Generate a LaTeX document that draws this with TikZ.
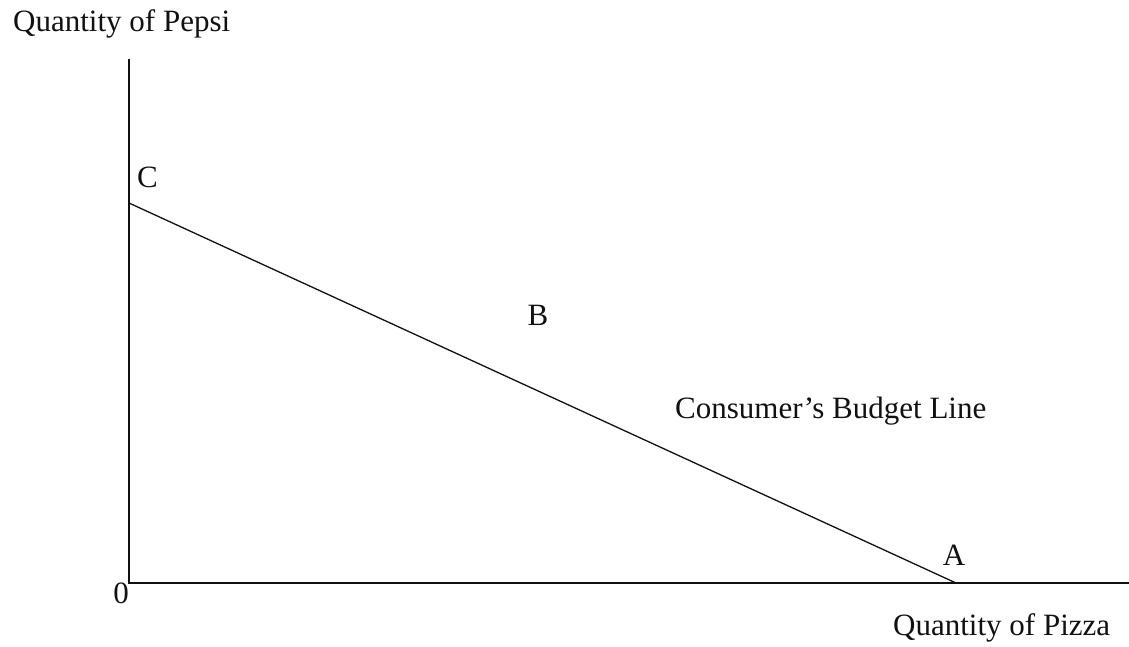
\documentclass[tikz,border=0pt]{standalone}
\usepackage{fontspec}
\setmainfont{Liberation Serif}
\usepackage{tikz}
\usetikzlibrary{positioning}
\usepackage{xcolor}
\definecolor{ink}{HTML}{111111}
\tikzset{
  base/.style={font=\fontsize{31}{36}\selectfont, text=ink, inner sep=0pt},
  label/.style={base, anchor=base west},
  point/.style={base, anchor=base},
  axis/.style={line width=1.7pt, draw=ink},
  budget/.style={line width=1.3pt, draw=ink},
}

\begin{document}
\begin{tikzpicture}[x=1pt,y=1pt]
  \useasboundingbox (0,0) rectangle (1129,646);

  \coordinate (origin) at (129,63);
  \coordinate (ytop) at (129,587);
  \coordinate (xend) at (1129,63);
  \coordinate (cpt) at (129,443);
  \coordinate (apt) at (956,63);

  \node[label] (ylab) at (13,614) {Quantity of Pepsi};
  \node[label] (xlab) at (893,11) {Quantity of Pizza};
  \node[label] (blab) at (675,228) {Consumer’s Budget Line};
  \node[label] (c) at (137,458) {C};
  \node[point] (b) at (538,320) {B};
  \node[point] (a) at (954,81) {A};
  \node[point] (zero) at (121,43) {0};

  \draw[axis] (ytop) -- (origin) -- (xend);
  \draw[budget] (cpt) -- (apt);
\end{tikzpicture}
\end{document}
